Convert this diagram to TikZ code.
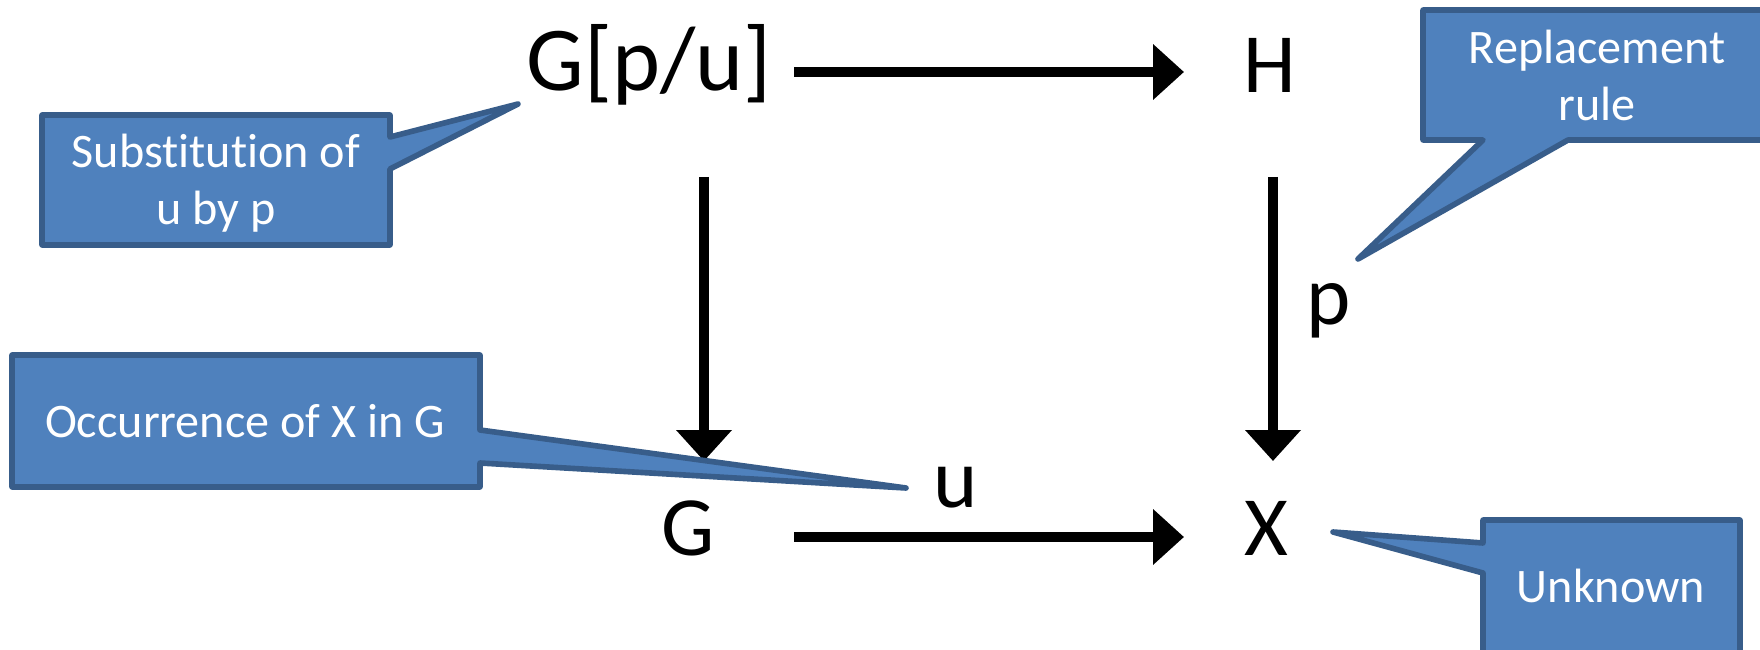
\documentclass[tikz,border=0pt]{standalone}
\usepackage{fontspec}
\setmainfont{Carlito}[Ligatures={NoCommon,NoRare,NoContextual}]
\usetikzlibrary{arrows.meta}
\definecolor{notefill}{RGB}{79,129,189}
\definecolor{noteline}{RGB}{56,93,138}
\tikzset{
  lbl/.style={font=\fontsize{24}{28}\selectfont, inner sep=0pt},
  note/.style={text=white, align=center, inner sep=0pt, font=\fontsize{13.7}{16.2}\selectfont},
  bubble/.style={fill=notefill, draw=noteline, line width=1.6pt, line join=round},
  arr/.style={line width=2.85pt, -{Triangle[length=0.31cm,width=0.54cm]}}
}
\begin{document}
\begin{tikzpicture}
\clip (0,0) rectangle (17.6,6.49);

\node[lbl,anchor=base,font=\fontsize{26}{30}\selectfont] (gpu) at (6.49,5.58) {G[p/u]};
\node[lbl,anchor=base] (h) at (12.70,5.56) {H};
\node[lbl,anchor=base] (g) at (6.88,0.94) {G};
\node[lbl,anchor=base] (x) at (12.66,0.94) {X};
\node[lbl,anchor=base] (u) at (9.56,1.42) {u};
\node[lbl,anchor=base] (p) at (13.29,3.24) {p};

\coordinate (c-gpu) at (7.04,5.77);
\coordinate (c-h) at (12.73,5.77);
\coordinate (c-g) at (7.04,1.12);
\coordinate (c-x) at (12.73,1.12);
\draw[arr,shorten <=0.90cm,shorten >=0.89cm] (c-gpu) -- (c-h);
\draw[arr,shorten <=0.90cm,shorten >=0.89cm] (c-g) -- (c-x);
\draw[arr,shorten <=1.05cm,shorten >=0.76cm] (c-gpu) -- (c-g);
\draw[arr,shorten <=1.05cm,shorten >=0.76cm] (c-h) -- (c-x);

\draw[bubble] (0.42,5.34) -- (3.90,5.34) -- (3.90,5.12) -- (5.18,5.45)
   -- (3.90,4.80) -- (3.90,4.04) -- (0.42,4.04) -- cycle;
\node[note] (subst) at (2.16,4.66) {Substitution of\\u by p};

\draw[bubble] (0.12,2.94) -- (4.80,2.94) -- (4.80,2.19) -- (9.06,1.61)
   -- (4.80,1.86) -- (4.80,1.62) -- (0.12,1.62) -- cycle;
\node[note,anchor=base] (occur) at (2.45,2.12) {Occurrence of X in G};

\draw[bubble] (14.23,6.39) -- (17.71,6.39) -- (17.71,5.09) -- (15.68,5.09)
   -- (13.58,3.90) -- (14.83,5.09) -- (14.23,5.09) -- cycle;
\node[note] (rule) at (15.97,5.74) {Replacement\\rule};

\draw[bubble] (14.83,1.29) -- (17.40,1.29) -- (17.40,-0.05) -- (14.83,-0.05)
   -- (14.83,0.76) -- (13.33,1.17) -- (14.83,1.06) -- cycle;
\node[note,anchor=base] (unknown) at (16.11,0.47) {Unknown};
\end{tikzpicture}
\end{document}
